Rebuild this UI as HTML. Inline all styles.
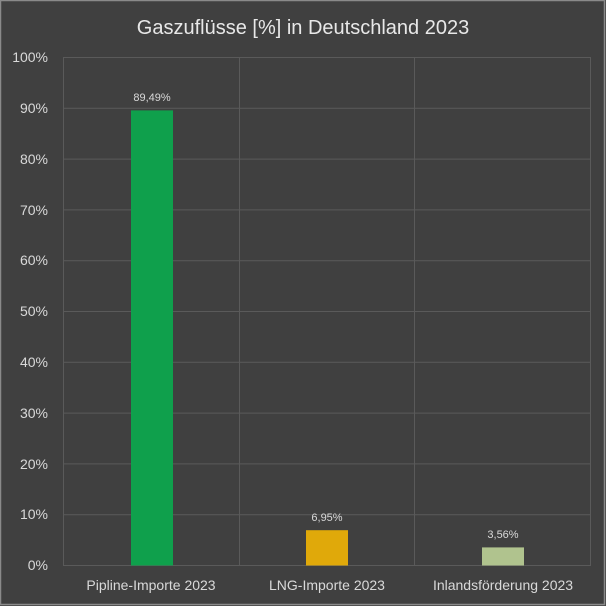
<!DOCTYPE html>
<html><head><meta charset="utf-8"><style>
html,body{margin:0;padding:0;background:#404040;}
svg{display:block;font-family:"Liberation Sans",sans-serif;}
</style></head><body>
<svg width="606" height="606" viewBox="0 0 606 606">
<rect x="0" y="0" width="606" height="606" fill="#404040"/>
<rect x="0.5" y="0.5" width="604" height="604" fill="none" stroke="#8a8a8a" stroke-width="1.5"/>
<text x="303" y="34" text-anchor="middle" font-size="20" fill="#e8e8e8">Gaszuflüsse [%] in Deutschland 2023</text>
<g stroke="#5a5a5a" stroke-width="1">
<line x1="63" y1="57.5" x2="590" y2="57.5"/>
<line x1="63" y1="108.3" x2="590" y2="108.3"/>
<line x1="63" y1="159.1" x2="590" y2="159.1"/>
<line x1="63" y1="209.9" x2="590" y2="209.9"/>
<line x1="63" y1="260.7" x2="590" y2="260.7"/>
<line x1="63" y1="311.5" x2="590" y2="311.5"/>
<line x1="63" y1="362.3" x2="590" y2="362.3"/>
<line x1="63" y1="413.1" x2="590" y2="413.1"/>
<line x1="63" y1="463.9" x2="590" y2="463.9"/>
<line x1="63" y1="514.7" x2="590" y2="514.7"/>
<line x1="63" y1="565.5" x2="590" y2="565.5"/>
<line x1="63.5" y1="57" x2="63.5" y2="566"/>
<line x1="239.5" y1="57" x2="239.5" y2="566"/>
<line x1="414.5" y1="57" x2="414.5" y2="566"/>
<line x1="590.5" y1="57" x2="590.5" y2="566"/>
</g>
<g font-size="14" fill="#d9d9d9" text-anchor="end">
<text x="48" y="62">100%</text>
<text x="48" y="113">90%</text>
<text x="48" y="164">80%</text>
<text x="48" y="215">70%</text>
<text x="48" y="265">60%</text>
<text x="48" y="316">50%</text>
<text x="48" y="367">40%</text>
<text x="48" y="418">30%</text>
<text x="48" y="469">20%</text>
<text x="48" y="519">10%</text>
<text x="48" y="570">0%</text>
</g>
<rect x="131" y="110.4" width="42" height="455.1" fill="#0fa04c"/>
<rect x="306" y="530.2" width="42" height="35.3" fill="#e0a90a"/>
<rect x="482" y="547.4" width="42" height="18.1" fill="#b0c38e"/>
<g font-size="11" fill="#d9d9d9" text-anchor="middle">
<text x="152" y="101">89,49%</text>
<text x="327" y="521">6,95%</text>
<text x="503" y="538">3,56%</text>
</g>
<g font-size="14" fill="#d9d9d9" text-anchor="middle">
<text x="151" y="590">Pipline-Importe 2023</text>
<text x="327" y="590">LNG-Importe 2023</text>
<text x="503" y="590">Inlandsförderung 2023</text>
</g>
</svg>
</body></html>
